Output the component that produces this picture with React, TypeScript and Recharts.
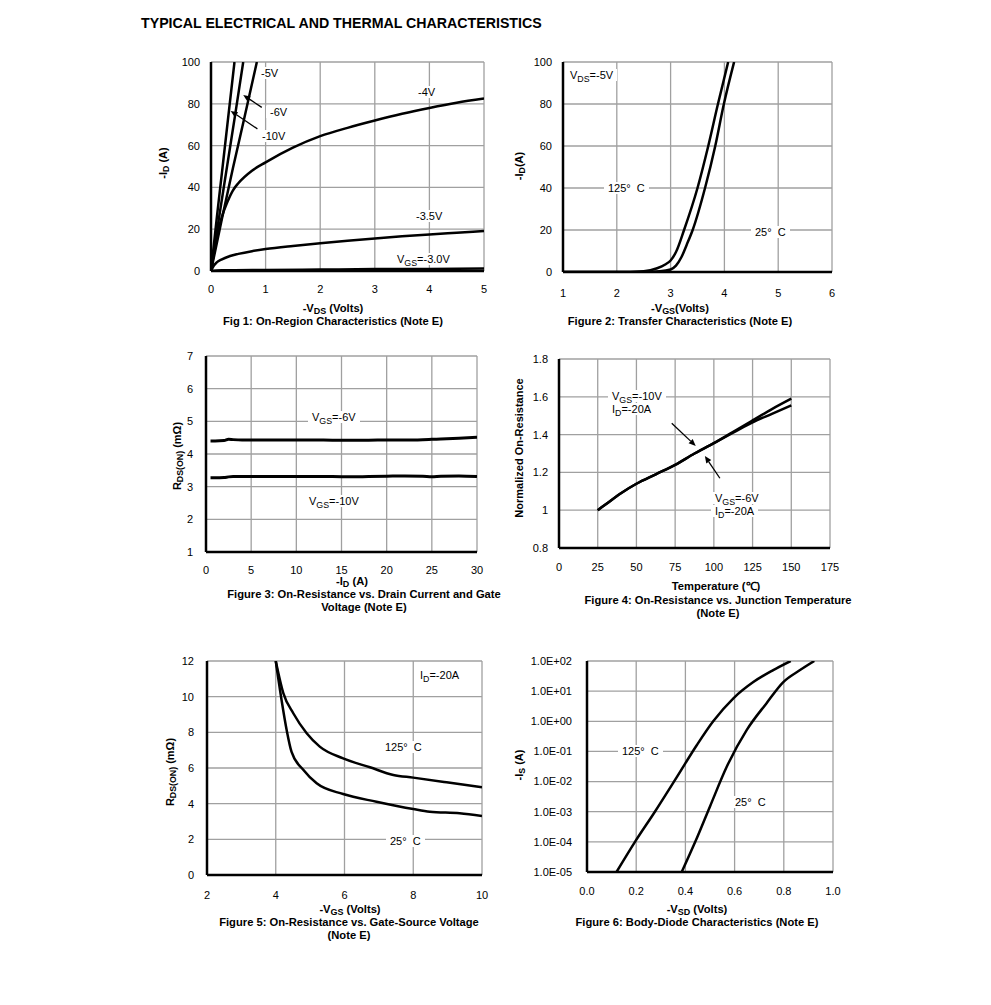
import React from 'react';
import { LineChart, Line, XAxis, YAxis, CartesianGrid, ReferenceLine } from 'recharts';

type Pt = { x: number; y: number };

// Fig 1: -ID vs -VDS for each VGS
const fig1Vgs10: Pt[] = [{ x: 0, y: 0 }, { x: 0.1, y: 24 }, { x: 0.2, y: 47 }, { x: 0.3, y: 70 }, { x: 0.43, y: 100 }];
const fig1Vgs6: Pt[] = [{ x: 0, y: 0 }, { x: 0.15, y: 26 }, { x: 0.3, y: 51 }, { x: 0.45, y: 76 }, { x: 0.59, y: 100 }];
const fig1Vgs5: Pt[] = [{ x: 0, y: 0 }, { x: 0.2, y: 25 }, { x: 0.4, y: 49 }, { x: 0.6, y: 72 }, { x: 0.84, y: 100 }];
const fig1Vgs4: Pt[] = [
  { x: 0, y: 0 }, { x: 0.05, y: 8 }, { x: 0.1, y: 15 }, { x: 0.2, y: 26 }, { x: 0.3, y: 33 }, { x: 0.4, y: 38.5 },
  { x: 0.5, y: 42 }, { x: 0.75, y: 48 }, { x: 1, y: 52 }, { x: 1.5, y: 59 }, { x: 2, y: 64.5 }, { x: 2.5, y: 68.5 },
  { x: 3, y: 72 }, { x: 3.5, y: 75.2 }, { x: 4, y: 78 }, { x: 4.5, y: 80.5 }, { x: 5, y: 82.5 },
];
const fig1Vgs35: Pt[] = [
  { x: 0, y: 0 }, { x: 0.05, y: 2.5 }, { x: 0.1, y: 4 }, { x: 0.2, y: 5.6 }, { x: 0.35, y: 7.2 }, { x: 0.5, y: 8.2 },
  { x: 0.75, y: 9.5 }, { x: 1, y: 10.5 }, { x: 1.5, y: 12 }, { x: 2, y: 13.3 }, { x: 2.5, y: 14.5 }, { x: 3, y: 15.6 },
  { x: 3.5, y: 16.6 }, { x: 4, y: 17.5 }, { x: 4.5, y: 18.3 }, { x: 5, y: 19.1 },
];
const fig1Vgs3: Pt[] = [{ x: 0, y: 0 }, { x: 0.2, y: 0.3 }, { x: 1, y: 0.5 }, { x: 2, y: 0.7 }, { x: 3, y: 0.9 }, { x: 4, y: 1 }, { x: 5, y: 1.2 }];
const fig1Arrows: [Pt, Pt][] = [
  [{ x: 0.93, y: 78.3 }, { x: 0.59, y: 84.2 }],
  [{ x: 0.85, y: 68 }, { x: 0.36, y: 76.6 }],
];

// Fig 2: transfer
const fig2T125: Pt[] = [
  { x: 1, y: 0 }, { x: 2, y: 0 }, { x: 2.5, y: 0.4 }, { x: 2.75, y: 1.8 }, { x: 2.9, y: 3.6 }, { x: 3, y: 5.5 },
  { x: 3.1, y: 9.5 }, { x: 3.25, y: 20 }, { x: 3.5, y: 40 }, { x: 3.7, y: 60 }, { x: 3.88, y: 80 }, { x: 4.07, y: 100 },
];
const fig2T25: Pt[] = [
  { x: 1, y: 0 }, { x: 2.5, y: 0 }, { x: 2.8, y: 0.3 }, { x: 3, y: 1.2 }, { x: 3.1, y: 3 }, { x: 3.2, y: 7 },
  { x: 3.3, y: 13 }, { x: 3.41, y: 20 }, { x: 3.64, y: 40 }, { x: 3.83, y: 60 }, { x: 3.99, y: 80 }, { x: 4.18, y: 100 },
];

// Fig 3: RDS(ON) vs -ID
const fig3Id = [0.5, 1, 2, 2.5, 3, 4, 5, 6, 8, 10, 12, 14, 16, 18, 20, 22, 24, 25, 26, 28, 30];
const fig3Vgs6 = [4.4, 4.4, 4.41, 4.45, 4.44, 4.43, 4.43, 4.43, 4.43, 4.43, 4.43, 4.42, 4.42, 4.42, 4.43, 4.43, 4.44, 4.45, 4.46, 4.48, 4.51];
const fig3Vgs10 = [3.27, 3.27, 3.28, 3.3, 3.31, 3.31, 3.31, 3.31, 3.31, 3.31, 3.31, 3.31, 3.3, 3.31, 3.32, 3.33, 3.32, 3.3, 3.32, 3.33, 3.31];

// Fig 4: normalized on-resistance vs temperature
const fig4Temp = [25, 30, 40, 50, 62.5, 75, 87.5, 100, 112.5, 125, 137.5, 150];
const fig4Vgs10 = [1.0, 1.03, 1.09, 1.14, 1.19, 1.24, 1.3, 1.355, 1.415, 1.475, 1.535, 1.59];
const fig4Vgs6 = [1.0, 1.03, 1.09, 1.14, 1.19, 1.24, 1.3, 1.355, 1.41, 1.465, 1.51, 1.555];
const fig4Arrows: [Pt, Pt][] = [
  [{ x: 72.8, y: 1.46 }, { x: 88.3, y: 1.34 }],
  [{ x: 103.9, y: 1.169 }, { x: 94.2, y: 1.287 }],
];

// Fig 5: RDS(ON) vs -VGS
const fig5T125: Pt[] = [
  { x: 4, y: 12 }, { x: 4.22, y: 10.2 }, { x: 4.51, y: 9.07 }, { x: 4.9, y: 7.95 }, { x: 5.28, y: 7.2 }, { x: 5.96, y: 6.54 },
  { x: 6.74, y: 6.04 }, { x: 7.42, y: 5.61 }, { x: 8, y: 5.46 }, { x: 8.97, y: 5.2 }, { x: 10, y: 4.92 },
];
const fig5T25: Pt[] = [
  { x: 4, y: 12 }, { x: 4.17, y: 9.8 }, { x: 4.32, y: 8.1 }, { x: 4.46, y: 6.9 }, { x: 4.8, y: 5.9 }, { x: 5.19, y: 5.14 },
  { x: 5.96, y: 4.54 }, { x: 6.93, y: 4.11 }, { x: 8, y: 3.7 }, { x: 8.48, y: 3.55 }, { x: 9.35, y: 3.46 }, { x: 10, y: 3.31 },
];

// Fig 6: body diode
const fig6T125: Pt[] = [
  { x: 0.12, y: 1e-5 }, { x: 0.195, y: 1e-4 }, { x: 0.276, y: 1e-3 }, { x: 0.365, y: 1.4e-2 }, { x: 0.446, y: 0.16 },
  { x: 0.513, y: 1 }, { x: 0.595, y: 5.8 }, { x: 0.676, y: 20 }, { x: 0.757, y: 50 }, { x: 0.828, y: 100 },
];
const fig6T25: Pt[] = [
  { x: 0.385, y: 1e-5 }, { x: 0.44, y: 1e-4 }, { x: 0.5, y: 1.5e-3 }, { x: 0.568, y: 3.1e-2 }, { x: 0.649, y: 0.51 },
  { x: 0.73, y: 4 }, { x: 0.798, y: 20 }, { x: 0.866, y: 50 }, { x: 0.924, y: 100 },
];

const FONT = '"Liberation Sans", Arial, sans-serif';
const PAD_L = 90;
const PAD_T = 10;
const PAD_R = 15;
const PAD_B = 40;

const zip = (xs: number[], ys: number[]): Pt[] => xs.map((x, i) => ({ x, y: ys[i] }));
const sciFmt = (v: number) => {
  const e = Math.round(Math.log10(v));
  return `1.0E${e < 0 ? '-' : '+'}${String(Math.abs(e)).padStart(2, '0')}`;
};

const Sub = ({ children }: { children: React.ReactNode }) => (
  <span style={{ fontSize: '0.8em', verticalAlign: '-0.3em', lineHeight: 0 }}>{children}</span>
);

const arrowShape = (p: any) => {
  const { x1, y1, x2, y2 } = p;
  const a = Math.atan2(y2 - y1, x2 - x1);
  const L = 7;
  const W = 3;
  const bx = x2 - L * Math.cos(a);
  const by = y2 - L * Math.sin(a);
  const pts = `${x2},${y2} ${bx + W * Math.sin(a)},${by - W * Math.cos(a)} ${bx - W * Math.sin(a)},${by + W * Math.cos(a)}`;
  return (
    <g>
      <line x1={x1} y1={y1} x2={bx} y2={by} stroke="#000" strokeWidth={1.3} />
      <polygon points={pts} fill="#000" />
    </g>
  );
};

type PlotProps = {
  box: [number, number, number, number];
  xDomain: [number, number];
  yDomain: [number, number];
  xTicks: number[];
  yTicks: number[];
  series: Pt[][];
  arrows?: [Pt, Pt][];
  logY?: boolean;
  xFmt?: (v: number) => string;
  yFmt?: (v: number) => string;
  xGap: number;
  yGap: number;
  width?: number;
};

const tickStyle = { fontSize: 11, fill: '#000', fontFamily: FONT };

const Plot = ({ box, xDomain, yDomain, xTicks, yTicks, series, arrows = [], logY = false, xFmt, yFmt, xGap, yGap, width = 2.5 }: PlotProps) => {
  const [l, t, r, b] = box;
  return (
    <div style={{ position: 'absolute', left: l - PAD_L, top: t - PAD_T }}>
      <LineChart width={r - l + PAD_L + PAD_R} height={b - t + PAD_T + PAD_B} margin={{ top: PAD_T, right: PAD_R, bottom: 0, left: 0 }}>
        <CartesianGrid stroke="#a0a0a0" strokeWidth={1.3} />
        <XAxis
          type="number" dataKey="x" domain={xDomain} ticks={xTicks} interval={0} allowDataOverflow
          height={PAD_B} tickLine={false} tickSize={0} tickMargin={xGap}
          axisLine={{ stroke: '#000', strokeWidth: 2.5 }} tick={tickStyle} tickFormatter={xFmt}
        />
        <YAxis
          type="number" dataKey="y" scale={logY ? 'log' : 'linear'} domain={yDomain} ticks={yTicks} interval={0} allowDataOverflow
          width={PAD_L} tickLine={false} tickSize={0} tickMargin={yGap}
          axisLine={{ stroke: '#000', strokeWidth: 2.5 }} tick={tickStyle} tickFormatter={yFmt}
        />
        {series.map((s, i) => (
          <Line key={i} data={s} dataKey="y" type="monotone" stroke="#000" strokeWidth={width} dot={false} isAnimationActive={false} />
        ))}
        {arrows.map(([a, c], i) => (
          <ReferenceLine key={`a${i}`} segment={[a, c]} shape={arrowShape} />
        ))}
      </LineChart>
    </div>
  );
};

const Note = ({ x, y, children }: { x: number; y: number; children: React.ReactNode }) => (
  <div style={{ position: 'absolute', left: x - 4, top: y - 6, padding: '0 4px', background: '#fff', fontSize: 11, lineHeight: '12px', whiteSpace: 'nowrap' }}>
    {children}
  </div>
);

const Center = ({ x, y, size = 11.2, children }: { x: number; y: number; size?: number; children: React.ReactNode }) => (
  <div style={{ position: 'absolute', left: x, top: y, transform: 'translate(-50%, -50%)', fontSize: size, fontWeight: 700, whiteSpace: 'nowrap', lineHeight: '11px' }}>
    {children}
  </div>
);

const VTitle = ({ x, y, children }: { x: number; y: number; children: React.ReactNode }) => (
  <div style={{ position: 'absolute', left: x, top: y, transform: 'translate(-50%, -50%) rotate(-90deg)', fontSize: 11, fontWeight: 700, whiteSpace: 'nowrap', lineHeight: '13px' }}>
    {children}
  </div>
);

const C = '125\u00B0\u00A0\u00A0C';
const C25 = '25\u00B0\u00A0\u00A0C';

export default function App() {
  return (
    <div style={{ position: 'absolute', left: 0, top: 0, width: 991, height: 1005, background: '#fff', fontFamily: FONT, color: '#000' }}>
      <div style={{ position: 'absolute', left: 141, top: 15, fontSize: 14.2, fontWeight: 700, lineHeight: '17px' }}>TYPICAL ELECTRICAL AND THERMAL CHARACTERISTICS</div>

      {/* Fig 1 */}
      <Plot box={[211, 62, 484, 271]} xDomain={[0, 5]} yDomain={[0, 100]} xTicks={[0, 1, 2, 3, 4, 5]} yTicks={[0, 20, 40, 60, 80, 100]}
        series={[fig1Vgs10, fig1Vgs6, fig1Vgs5, fig1Vgs4, fig1Vgs35, fig1Vgs3]} arrows={fig1Arrows} xGap={14} yGap={11} />
      <Note x={261} y={73}>-5V</Note>
      <Note x={418} y={92}>-4V</Note>
      <Note x={270} y={112}>-6V</Note>
      <Note x={262} y={136}>-10V</Note>
      <Note x={416} y={216}>-3.5V</Note>
      <Note x={397} y={259}>V<Sub>GS</Sub>=-3.0V</Note>
      <VTitle x={163} y={163}>-I<Sub>D</Sub> (A)</VTitle>
      <Center x={333} y={308}>-V<Sub>DS</Sub> (Volts)</Center>
      <Center x={333} y={321}>Fig 1: On-Region Characteristics (Note E)</Center>

      {/* Fig 2 */}
      <Plot box={[563, 62, 832, 272]} xDomain={[1, 6]} yDomain={[0, 100]} xTicks={[1, 2, 3, 4, 5, 6]} yTicks={[0, 20, 40, 60, 80, 100]}
        series={[fig2T125, fig2T25]} xGap={17} yGap={11} />
      <Note x={570} y={75}>V<Sub>DS</Sub>=-5V</Note>
      <Note x={608} y={188}>{C}</Note>
      <Note x={755} y={232}>{C25}</Note>
      <VTitle x={519} y={166}>-I<Sub>D</Sub>(A)</VTitle>
      <Center x={680} y={308}>-V<Sub>GS</Sub>(Volts)</Center>
      <Center x={680} y={321}>Figure 2: Transfer Characteristics (Note E)</Center>

      {/* Fig 3 */}
      <Plot box={[206, 356, 477, 552]} xDomain={[0, 30]} yDomain={[1, 7]} xTicks={[0, 5, 10, 15, 20, 25, 30]} yTicks={[1, 2, 3, 4, 5, 6, 7]}
        series={[zip(fig3Id, fig3Vgs6), zip(fig3Id, fig3Vgs10)]} xGap={14} yGap={13} width={3} />
      <Note x={312} y={417}>V<Sub>GS</Sub>=-6V</Note>
      <Note x={309} y={501}>V<Sub>GS</Sub>=-10V</Note>
      <VTitle x={177} y={456}>R<Sub>DS(ON)</Sub> (m{'\u03A9'})</VTitle>
      <Center x={352} y={581}>-I<Sub>D</Sub> (A)</Center>
      <Center x={364} y={594}>Figure 3: On-Resistance vs. Drain Current and Gate</Center>
      <Center x={364} y={607}>Voltage (Note E)</Center>

      {/* Fig 4 */}
      <Plot box={[559, 359, 830, 548]} xDomain={[0, 175]} yDomain={[0.8, 1.8]} xTicks={[0, 25, 50, 75, 100, 125, 150, 175]} yTicks={[0.8, 1, 1.2, 1.4, 1.6, 1.8]}
        series={[zip(fig4Temp, fig4Vgs10), zip(fig4Temp, fig4Vgs6)]} arrows={fig4Arrows} xGap={15} yGap={11} />
      <Note x={612} y={396}>V<Sub>GS</Sub>=-10V</Note>
      <Note x={612} y={409}>I<Sub>D</Sub>=-20A</Note>
      <Note x={715} y={498}>V<Sub>GS</Sub>=-6V</Note>
      <Note x={715} y={511}>I<Sub>D</Sub>=-20A</Note>
      <VTitle x={519} y={448}>Normalized On-Resistance</VTitle>
      <Center x={716} y={586}>Temperature ({'\u2103'})</Center>
      <Center x={718} y={600}>Figure 4: On-Resistance vs. Junction Temperature</Center>
      <Center x={718} y={613}>(Note E)</Center>

      {/* Fig 5 */}
      <Plot box={[207, 661, 482, 875]} xDomain={[2, 10]} yDomain={[0, 12]} xTicks={[2, 4, 6, 8, 10]} yTicks={[0, 2, 4, 6, 8, 10, 12]}
        series={[fig5T125, fig5T25]} xGap={16} yGap={13} />
      <Note x={420} y={675}>I<Sub>D</Sub>=-20A</Note>
      <Note x={385} y={747}>{C}</Note>
      <Note x={390} y={841}>{C25}</Note>
      <VTitle x={170} y={772}>R<Sub>DS(ON)</Sub> (m{'\u03A9'})</VTitle>
      <Center x={350} y={909}>-V<Sub>GS</Sub> (Volts)</Center>
      <Center x={349} y={922}>Figure 5: On-Resistance vs. Gate-Source Voltage</Center>
      <Center x={349} y={935}>(Note E)</Center>

      {/* Fig 6 */}
      <Plot box={[587, 661, 833, 872]} xDomain={[0, 1]} yDomain={[1e-5, 100]} xTicks={[0, 0.2, 0.4, 0.6, 0.8, 1]}
        yTicks={[1e-5, 1e-4, 1e-3, 1e-2, 1e-1, 1, 10, 100]} logY yFmt={sciFmt} xFmt={(v) => v.toFixed(1)}
        series={[fig6T125, fig6T25]} xGap={15} yGap={15} />
      <Note x={622} y={751}>{C}</Note>
      <Note x={735} y={802}>{C25}</Note>
      <VTitle x={519} y={765}>-I<Sub>S</Sub> (A)</VTitle>
      <Center x={697} y={909}>-V<Sub>SD</Sub> (Volts)</Center>
      <Center x={697} y={922}>Figure 6: Body-Diode Characteristics (Note E)</Center>
    </div>
  );
}
